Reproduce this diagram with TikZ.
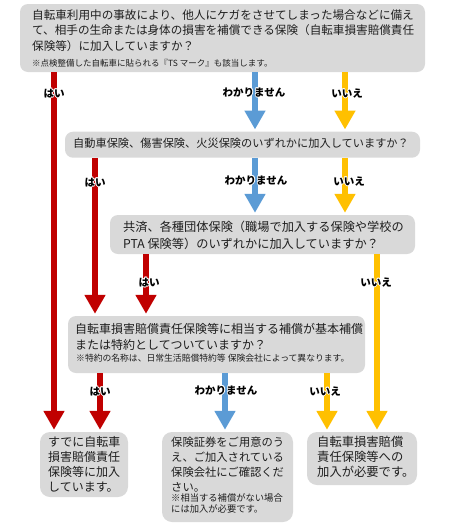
\documentclass[tikz,border=0pt]{standalone}
\usepackage{fontspec}
\setmainfont{Noto Sans CJK JP}
\usetikzlibrary{arrows.meta}
\definecolor{cred}{HTML}{C00000}
\definecolor{cblue}{HTML}{5B9BD5}
\definecolor{cyellow}{HTML}{FFC000}
\definecolor{cgray}{HTML}{D9D9D9}
\definecolor{ctext}{HTML}{1E1E1E}
\newcommand\lblhalo[1]{%
  \leavevmode
  \rlap{\textcolor{white}{\kern-.9pt#1}}%
  \rlap{\textcolor{white}{\kern.9pt#1}}%
  \rlap{\textcolor{white}{\raisebox{.9pt}{#1}}}%
  \rlap{\textcolor{white}{\raisebox{-.9pt}{#1}}}%
  \rlap{\textcolor{white}{\kern-.65pt\raisebox{.65pt}{#1}}}%
  \rlap{\textcolor{white}{\kern.65pt\raisebox{.65pt}{#1}}}%
  \rlap{\textcolor{white}{\kern-.65pt\raisebox{-.65pt}{#1}}}%
  \rlap{\textcolor{white}{\kern.65pt\raisebox{-.65pt}{#1}}}%
  #1}
\newcommand\fs[2]{\fontsize{#1}{#2}\selectfont}
\begin{document}
\begin{tikzpicture}[x=1pt,y=-1pt,
  box/.style={fill=cgray, rounded corners=8pt, inner sep=0pt, draw=none},
  endbox/.style={box, rounded corners=10pt},
  txt/.style={anchor=base west, align=left, inner sep=0pt, text=ctext},
  arr/.style={line width=6.5pt, -{Triangle[width=20pt,length=19pt]}, shorten >=2pt},
  lbl/.style={font=\bfseries\fs{10.5}{10.5}, inner sep=0pt, text height=8.7pt, text depth=0.5pt}]
\useasboundingbox (0,0) rectangle (448,531);
% columns
\coordinate (cR1) at (54,0);
\coordinate (cR2) at (95,0);
\coordinate (cR3) at (146,0);
\coordinate (cR4) at (100,0);
\coordinate (cB1) at (255,0);
\coordinate (cB4) at (225,0);
\coordinate (cY1) at (345,0);
\coordinate (cY3) at (377,0);
\coordinate (cY4) at (327,0);
% boxes (shapes)
\node[box, minimum width=405pt, minimum height=68pt] (q1) at (222.5,38) {};
\node[box, minimum width=355pt, minimum height=26pt] (q2) at (242.5,144.7) {};
\node[box, minimum width=305pt, minimum height=39pt] (q3) at (262.5,234.5) {};
\node[box, minimum width=297pt, minimum height=57pt] (q4) at (216.5,344.5) {};
\node[endbox, minimum width=88pt, minimum height=65pt] (r1) at (84,464.5) {};
\node[endbox, minimum width=131pt, minimum height=90pt] (r2) at (227.5,477) {};
\node[endbox, minimum width=110pt, minimum height=53pt] (r3) at (362,458.5) {};
% arrows
\draw[arr, cred] (q1.south -| cR1) -- (r1.north -| cR1);
\draw[arr, cblue] (q1.south -| cB1) -- (q2.north -| cB1);
\draw[arr, cyellow] (q1.south -| cY1) -- (q2.north -| cY1);
\draw[arr, cred] (q2.south -| cR2) -- (q4.north -| cR2);
\draw[arr, cblue] (q2.south -| cB1) -- (q3.north -| cB1);
\draw[arr, cyellow] (q2.south -| cY1) -- (q3.north -| cY1);
\draw[arr, cred] (q3.south -| cR3) -- (q4.north -| cR3);
\draw[arr, cyellow] (q3.south -| cY3) -- (r3.north -| cY3);
\draw[arr, cred] (q4.south -| cR4) -- (r1.north -| cR4);
\draw[arr, cblue] (q4.south -| cB4) -- (r2.north -| cB4);
\draw[arr, cyellow] (q4.south -| cY4) -- (r3.north -| cY4);
% labels
\node[lbl] (l1a) at (54,93) {\lblhalo{はい}};
\node[lbl] (l1b) at (254,92) {\lblhalo{わかりません}};
\node[lbl] (l1c) at (347,93) {\lblhalo{いいえ}};
\node[lbl] (l2a) at (95,182) {\lblhalo{はい}};
\node[lbl] (l2b) at (256,180) {\lblhalo{わかりません}};
\node[lbl] (l2c) at (349,181) {\lblhalo{いいえ}};
\node[lbl] (l3a) at (149,282) {\lblhalo{はい}};
\node[lbl] (l3b) at (376,282) {\lblhalo{いいえ}};
\node[lbl] (l4a) at (100,391) {\lblhalo{はい}};
\node[lbl] (l4b) at (226,390) {\lblhalo{わかりません}};
\node[lbl] (l4c) at (325,391) {\lblhalo{いいえ}};
% texts (base anchor = baseline of last line)
\node[txt, font=\fs{11.6}{15.3}] (t1) at (32,50.1) {自転車利用中の事故により、他人にケガをさせてしまった場合などに備え\\て、相手の生命または身体の損害を補償できる保険（自転車損害賠償責任\\保険等）に加入していますか？};
\node[txt, font=\fs{8.5}{10}] (n1) at (32,66) {※点検整備した自転車に貼られる『TS マーク』も該当します。};
\node[txt, font=\fs{11.2}{14}] (t2) at (73,147.7) {自動車保険、傷害保険、火災保険のいずれかに加入していますか？};
\node[txt, font=\fs{12.2}{16.7}] (t3) at (123,248.2) {共済、各種団体保険（職場で加入する保険や学校の\\PTA 保険等）のいずれかに加入していますか？};
\node[txt, font=\fs{12}{16}] (t4) at (75,349) {自転車損害賠償責任保険等に相当する補償が基本補償\\または特約としてついていますか？};
\node[txt, font=\fs{8.8}{10}] (n4) at (76,361.8) {※特約の名称は、日常生活賠償特約等 保険会社によって異なります。};
\node[txt, font=\fs{12}{15}] (t5) at (48,491.4) {すでに自転車\\損害賠償責任\\保険等に加入\\しています。};
\node[txt, font=\fs{11.3}{15}] (t6) at (171,491.5) {保険証券をご用意のう\\え、ご加入されている\\保険会社にご確認くだ\\さい。};
\node[txt, font=\fs{9.3}{11}] (n6) at (171,512.6) {※相当する補償がない場合\\には加入が必要です。};
\node[txt, font=\fs{12.3}{15}] (t7) at (317,476.5) {自転車損害賠償\\責任保険等への\\加入が必要です。};
\end{tikzpicture}
\end{document}
